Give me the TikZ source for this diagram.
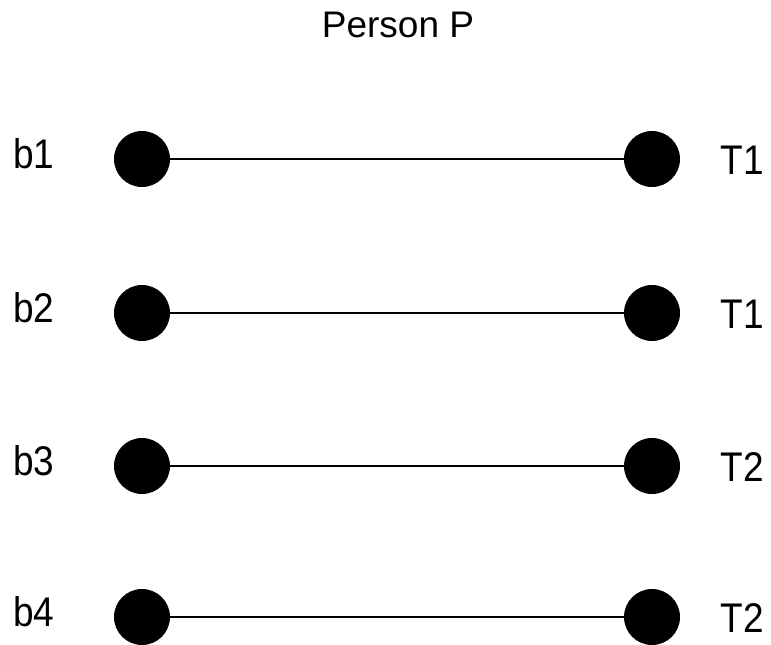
\documentclass[tikz,border=0pt]{standalone}
\usepackage{fontspec}
\setmainfont{Liberation Sans}
\begin{document}
\begin{tikzpicture}[x=1pt,y=-1pt,
  dot/.style={circle,fill=black,inner sep=0pt,minimum size=56pt},
  ttl/.style={inner sep=0pt,font=\fontsize{37}{42}\selectfont,anchor=base},
  lbl/.style={inner sep=0pt,font=\fontsize{37}{42}\selectfont,anchor=base,yscale=1.12},
  link/.style={line width=1.6pt}]
\useasboundingbox (0,0) rectangle (771,645);
\node[ttl] (title) at (398,37) {Person P};
\foreach \i/\y/\t in {1/159/T1,2/313/T1,3/466/T2,4/617/T2}{
  \node[dot] (L\i) at (142,\y) {};
  \node[dot] (R\i) at (652,\y) {};
  \node[lbl] (b\i) at (34,\y+9) {b\i};
  \node[lbl] (t\i) at (742,\y+15) {\t};
  \draw[link] (L\i) -- (R\i);
}
\end{tikzpicture}
\end{document}
